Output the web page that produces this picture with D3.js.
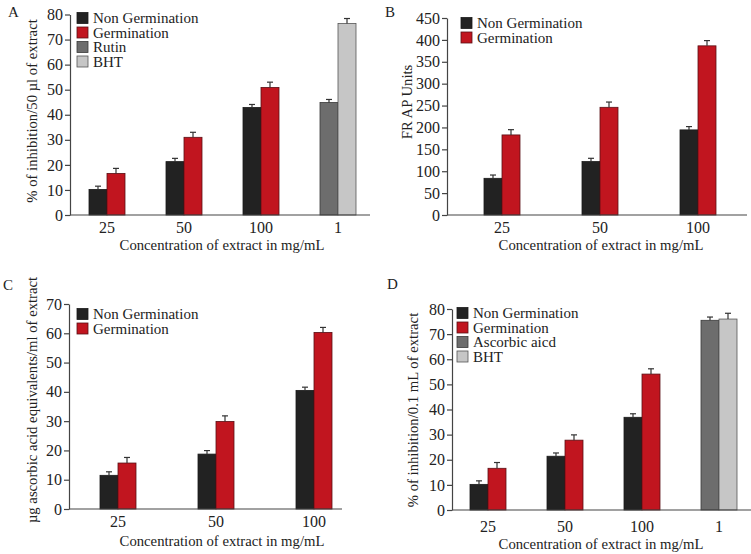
<!DOCTYPE html>
<html><head><meta charset="utf-8">
<script src="https://cdn.jsdelivr.net/npm/d3@7/dist/d3.min.js"></script>
<style>
body{margin:0;background:#fff;}
svg{display:block;font-family:"Liberation Serif","Times New Roman",serif;}
</style></head>
<body><svg id="c" width="751" height="554"></svg>
<script>
// ---------- DATA ----------
const catsAD = ["25","50","100","1"];
const catsBC = ["25","50","100"];

const aNonGerm = [10.2, 21.3, 42.9, null];
const aNonGermErr = [1.3, 1.3, 1.2, null];
const aGerm = [16.6, 31.0, 50.9, null];
const aGermErr = [2.0, 2.0, 2.1, null];
const aRutin = [null, null, null, 44.9];
const aRutinErr = [null, null, null, 1.2];
const aBHT = [null, null, null, 76.4];
const aBHTErr = [null, null, null, 2.0];

const bNonGerm = [83.8, 122, 194.4];
const bNonGermErr = [7.5, 7.5, 7.6];
const bGerm = [182.9, 246, 386.4];
const bGermErr = [12, 12, 12];

const cNonGerm = [11.5, 18.75, 40.5];
const cNonGermErr = [1.2, 1.2, 1.1];
const cGerm = [15.7, 29.9, 60.3];
const cGermErr = [1.9, 1.9, 1.7];

const dNonGerm = [10.2, 21.4, 36.9, null];
const dNonGermErr = [1.4, 1.3, 1.4, null];
const dGerm = [16.6, 27.8, 54.1, null];
const dGermErr = [2.3, 2.1, 2.1, null];
const dAsc = [null, null, null, 75.5];
const dAscErr = [null, null, null, 1.3];
const dBHT = [null, null, null, 76.0];
const dBHTErr = [null, null, null, 2.3];

const aTicks = [0,10,20,30,40,50,60,70,80];
const bTicks = [0,50,100,150,200,250,300,350,400,450];
const cTicks = [0,10,20,30,40,50,60,70];
const dTicks = [0,10,20,30,40,50,60,70,80];

const legendA = ["Non Germination","Germination","Rutin","BHT"];
const legendB = ["Non Germination","Germination"];
const legendC = ["Non Germination","Germination"];
const legendD = ["Non Germination","Germination","Ascorbic aicd","BHT"];

// ---------- STYLE ----------
const COL = {ng:"#222222", g:"#c1151f", r:"#6d6d6d", bht:"#c6c6c6"};
const STROKE = {ng:"#1a1a1a", g:"#5a1015", r:"#3a3a3a", bht:"#555555"};
const svg = d3.select("#c");

function panel(o){
  const g = svg.append("g");
  const y = d3.scaleLinear().domain([0, o.ymax]).range([o.y0, o.yTop]);
  const x = d3.scalePoint().domain(o.cats).range(o.xRange);
  const bw = 18;
  o.series.forEach(s=>{
    s.vals.forEach((v,i)=>{
      if(v==null) return;
      const cx = x(o.cats[i]) + (s.slot===0 ? -bw : 0);
      g.append("rect").attr("x",cx).attr("y",y(v)).attr("width",bw).attr("height",o.y0-y(v))
        .attr("fill",COL[s.key]).attr("stroke",STROKE[s.key]).attr("stroke-width",0.8);
      const e = s.errs[i];
      const mx = cx + bw/2;
      g.append("line").attr("x1",mx).attr("x2",mx).attr("y1",y(v)).attr("y2",y(v+e))
        .attr("stroke","#333").attr("stroke-width",1.2);
      g.append("line").attr("x1",mx-3).attr("x2",mx+3).attr("y1",y(v+e)).attr("y2",y(v+e))
        .attr("stroke","#333").attr("stroke-width",1.2);
    });
  });
  const ya = g.append("g").attr("transform",`translate(${o.xAxis},0)`)
    .call(d3.axisLeft(y).tickValues(o.ticks).tickSize(5).tickSizeOuter(0).tickPadding(2));
  ya.select(".domain").attr("stroke","#444").attr("stroke-width",1.2);
  ya.selectAll(".tick line").attr("stroke","#444").attr("stroke-width",1.2);
  ya.selectAll("text").attr("font-size",16).attr("fill","#222").attr("font-family","Liberation Serif");
  g.append("line").attr("x1",o.xAxis).attr("x2",o.xEnd).attr("y1",o.y0).attr("y2",o.y0)
    .attr("stroke","#444").attr("stroke-width",1.2);
  o.cats.forEach(c=>{
    g.append("text").attr("x",x(c)).attr("y",o.tickY).attr("text-anchor","middle")
      .attr("font-size",16).attr("fill","#222").text(c);
  });
  g.append("text").attr("x",o.xTitleX).attr("y",o.xTitleY).attr("text-anchor","middle")
    .attr("font-size",14.7).attr("fill","#222").text(o.xTitle);
  g.append("text").attr("transform",`translate(${o.yTitleX},${o.yTitleY}) rotate(-90)`)
    .attr("text-anchor","middle").attr("font-size",14.7).attr("fill","#222").text(o.yTitle);
  g.append("text").attr("x",o.labX).attr("y",o.labY).attr("font-size",15).attr("fill","#222").text(o.label);
  o.legend.forEach((t,i)=>{
    const k = o.legendKeys[i];
    const ly = o.legY + i*o.legStep;
    g.append("rect").attr("x",o.legX).attr("y",ly-5.5).attr("width",11).attr("height",11)
      .attr("fill",COL[k]).attr("stroke",STROKE[k]).attr("stroke-width",0.8);
    g.append("text").attr("x",o.legX+16).attr("y",ly+5).attr("font-size",15).attr("fill","#222").text(t);
  });
}

panel({label:"A", labX:8, labY:17, cats:catsAD, ymax:80, y0:215, yTop:14.5, xAxis:70, xEnd:370,
  xRange:[107,338], ticks:aTicks, tickY:233, xTitle:"Concentration of extract in mg/mL", xTitleX:222, xTitleY:250,
  yTitle:"% of inhibition/50 µl of extract", yTitleX:37, yTitleY:111,
  series:[{key:"ng",slot:0,vals:aNonGerm,errs:aNonGermErr},{key:"g",slot:1,vals:aGerm,errs:aGermErr},
          {key:"r",slot:0,vals:aRutin,errs:aRutinErr},{key:"bht",slot:1,vals:aBHT,errs:aBHTErr}],
  legend:legendA, legendKeys:["ng","g","r","bht"], legX:77, legY:18, legStep:14.5});

panel({label:"B", labX:385, labY:17, cats:catsBC, ymax:450, y0:215, yTop:18, xAxis:447, xEnd:747,
  xRange:[502,698], ticks:bTicks, tickY:233, xTitle:"Concentration of extract in mg/mL", xTitleX:601, xTitleY:250,
  yTitle:"FR AP Units", yTitleX:412, yTitleY:102,
  series:[{key:"ng",slot:0,vals:bNonGerm,errs:bNonGermErr},{key:"g",slot:1,vals:bGerm,errs:bGermErr}],
  legend:legendB, legendKeys:["ng","g"], legX:461, legY:23, legStep:14.5});

panel({label:"C", labX:3, labY:290, cats:catsBC, ymax:70, y0:509, yTop:304, xAxis:69, xEnd:342,
  xRange:[118,314], ticks:cTicks, tickY:527, xTitle:"Concentration of extract in mg/mL", xTitleX:222, xTitleY:546,
  yTitle:"µg ascorbic acid equivalents/ml of extract", yTitleX:37, yTitleY:400,
  series:[{key:"ng",slot:0,vals:cNonGerm,errs:cNonGermErr},{key:"g",slot:1,vals:cGerm,errs:cGermErr}],
  legend:legendC, legendKeys:["ng","g"], legX:77, legY:314, legStep:14.5});

panel({label:"D", labX:387, labY:289, cats:catsAD, ymax:80, y0:510, yTop:309, xAxis:452, xEnd:751,
  xRange:[488,719], ticks:dTicks, tickY:532, xTitle:"Concentration of extract in mg/mL", xTitleX:601, xTitleY:549,
  yTitle:"% of inhibition/0.1 mL of extract", yTitleX:418, yTitleY:410,
  series:[{key:"ng",slot:0,vals:dNonGerm,errs:dNonGermErr},{key:"g",slot:1,vals:dGerm,errs:dGermErr},
          {key:"r",slot:0,vals:dAsc,errs:dAscErr},{key:"bht",slot:1,vals:dBHT,errs:dBHTErr}],
  legend:legendD, legendKeys:["ng","g","r","bht"], legX:457, legY:313, legStep:14.5});
</script></body></html>
